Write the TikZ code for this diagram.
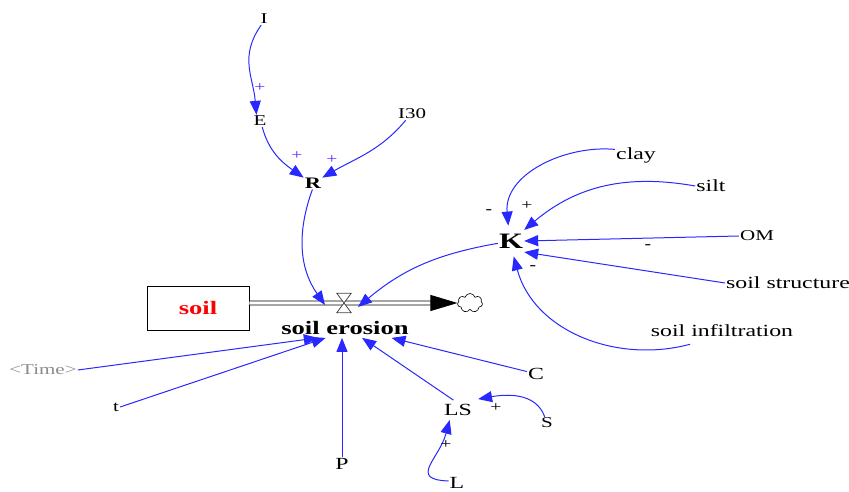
\documentclass[tikz,border=0pt]{standalone}
\usepackage{fontspec}
\setmainfont[FakeStretch=1.4]{Liberation Serif}
\usetikzlibrary{arrows.meta,shapes.symbols}
\definecolor{linkblue}{RGB}{40,40,255}
\definecolor{signviolet}{RGB}{100,40,255}
\definecolor{pipegray}{RGB}{70,70,70}
\definecolor{shadowgray}{RGB}{140,140,140}

\begin{document}
\begin{tikzpicture}[x=1pt,y=1pt,
  var/.style={inner sep=1pt,font=\fontsize{17}{20}\selectfont},
  smallvar/.style={inner sep=1pt,font=\fontsize{15}{18}\selectfont},
  link/.style={draw=linkblue,line width=1pt,-{Triangle[length=14pt,width=11pt]}},
  sgn/.style={inner sep=0pt,font=\fontsize{14}{16}\selectfont},
  neg/.style={inner sep=0pt,font=\bfseries\fontsize{14}{16}\selectfont}
]
\useasboundingbox (0,0) rectangle (849,491);

% ---------- stock, flow and sink ----------
\node[draw,line width=0.8pt,fill=white,minimum width=102pt,minimum height=44pt,
      text=red,font=\bfseries\fontsize{19}{22}\selectfont] (soil) at (198,183) {soil};
\node[cloud,cloud puffs=7,draw,line width=0.6pt,fill=white,
      minimum width=25pt,minimum height=19pt,inner sep=0pt] (sink) at (470,188) {};
\draw[line width=0.8pt,double=white,double distance=3.2pt,
      -{Triangle[length=27pt,width=16pt]}] (soil.east |- 0,188) -- (sink.west);
\node[inner sep=0pt,minimum width=14pt,minimum height=19pt] (valve) at (344,188) {};
\draw[pipegray,line width=0.8pt,fill=white]
  (valve.north west) -- (valve.north east) -- (valve.south west) -- (valve.south east) -- cycle;
\node[inner xsep=1pt,inner ysep=3pt,font=\bfseries\fontsize{19}{22}\selectfont] (ero) at (345,163) {soil erosion};
\coordinate (valveL) at (325,186);
\coordinate (valveR) at (358,184);

% ---------- auxiliaries ----------
\node[smallvar] (I) at (264,472) {I};
\node[smallvar] (E) at (260,370) {E};
\node[smallvar] (I30) at (412,377) {I30};
\node[smallvar,font=\bfseries\fontsize{16}{19}\selectfont] (R) at (313,308) {R};
\node[inner xsep=1pt,inner ysep=8pt,font=\bfseries\fontsize{22}{26}\selectfont] (K) at (511,250) {K};
\node[var] (clay) at (636,336) {clay};
\node[var] (silt) at (711,305) {silt};
\node[smallvar] (OM) at (757,255) {OM};
\node[var] (sstruct) at (788,208) {soil structure};
\node[var] (sinf) at (722,160) {soil infiltration};
\node[smallvar,text=shadowgray] (time) at (43,121) {<Time>};
\node[smallvar] (t) at (116,84) {t};
\node[var] (P) at (342,27) {P};
\node[var,inner sep=4pt] (LS) at (458,81) {LS};
\node[var] (C) at (536,117) {C};
\node[smallvar] (S) at (547,68) {S};
\node[var,anchor=south] (L) at (457,1) {L};

% ---------- links ----------
\draw[link] (I.245) to[out=235,in=95,looseness=1.1] (E.120);
\draw[link] (E.290) to[out=-75,in=145] (R.150);
\draw[link] (I30.225) to[out=230,in=30] (R.30);
\draw[link] (R.265) to[out=250,in=125] (valveL);
\draw[link] (K.190) to[out=190,in=40] (valveR);
\draw[link] (clay.165) to[out=175,in=95] (K.100);
\draw[link] (silt.west) to[out=170,in=40] (K.40);
\draw[link] (OM.west) -- (K.east);
\draw[link] (sstruct.west) -- (K.-40);
\draw[link] ([xshift=-32pt,yshift=-6pt]sinf.south) to[out=195,in=-75] (K.-80);
\draw[link] (time.east) -- (ero.200);
\draw[link] (t.east) -- (ero.207);
\draw[link] (P.north) -- (P.north |- ero.south);
\draw[link] (LS.115) -- (ero.330);
\draw[link] (C.165) -- (ero.348);
\draw[link] (S.110) to[out=110,in=10] ([xshift=2pt,yshift=1pt]LS.north east);
\draw[link] (L.165) to[out=178,in=-105,looseness=1.7] (LS.-130);

% ---------- polarities ----------
\node[sgn,text=signviolet] (p1) at (260,403) {+};
\node[sgn,text=signviolet] (p2) at (297,335) {+};
\node[sgn,text=signviolet] (p3) at (332,331) {+};
\node[neg] (m1) at (489,279) {-};
\node[sgn] (p4) at (527,285) {+};
\node[neg] (m2) at (648,244) {-};
\node[neg] (m3) at (533,223) {-};
\node[sgn] (p5) at (496,83) {+};
\node[sgn] (p6) at (446,46) {+};
\end{tikzpicture}
\end{document}
